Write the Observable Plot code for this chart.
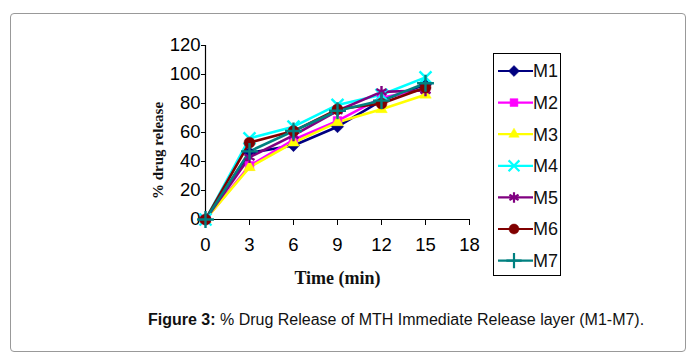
<!DOCTYPE html>
<html>
<head>
<meta charset="utf-8">
<script src="https://cdn.jsdelivr.net/npm/d3@7"></script>
<script src="https://cdn.jsdelivr.net/npm/@observablehq/plot@0.6"></script>
<style>
  html, body { margin: 0; padding: 0; background: #fff; }
  #wrap { position: relative; width: 694px; height: 354px; overflow: hidden; font-family: "Liberation Sans", Arial, sans-serif; }
  #frame { position: absolute; left: 10px; top: 13px; width: 676px; height: 339px; border: 1.3px solid #999; border-radius: 4px; box-sizing: border-box; }
  #chart { position: absolute; left: 0; top: 0; }
  #legend { position: absolute; left: 0; top: 0; }
  #caption { position: absolute; left: 148px; top: 311px; font-size: 16px; color: #111; white-space: nowrap; }
</style>
</head>
<body>
<div id="wrap">
  <div id="frame"></div>
  <div id="chart"></div>
  <svg id="legend" width="694" height="354"></svg>
  <div id="caption"><b>Figure 3:</b> % Drug Release of MTH Immediate Release layer (M1-M7).</div>
</div>
<script>
const time = [0, 3, 6, 9, 12, 15];
const seriesNames = ["M1", "M2", "M3", "M4", "M5", "M6", "M7"];
const M1 = [0, 46, 51, 64, 82, 93];
const M2 = [0, 37, 55, 68, 84, 90];
const M3 = [0, 36, 53, 67, 76, 86];
const M4 = [0, 56, 64, 79, 86, 98];
const M5 = [0, 43, 58, 75, 88, 89];
const M6 = [0, 53, 61, 76, 80, 91];
const M7 = [0, 47, 61, 75, 82, 94];
const colors = ["#000080", "#ff00ff", "#ffff00", "#00ffff", "#800080", "#800000", "#008080"];
const symbols = ["diamond2", "square2", "triangle2", "times", "asterisk", "circle", "plus"];
const filled = [true, true, true, false, false, true, false];
const xTicks = [0, 3, 6, 9, 12, 15, 18];
const yTicks = [0, 20, 40, 60, 80, 100, 120];

const allValues = [M1, M2, M3, M4, M5, M6, M7];
const data = [];
seriesNames.forEach((s, i) => time.forEach((t, j) => data.push({series: s, t, v: allValues[i][j]})));

const marks = [];
seriesNames.forEach((s, i) => {
  const d = data.filter(r => r.series === s);
  marks.push(Plot.line(d, {x: "t", y: "v", stroke: colors[i], strokeWidth: 2.6}));
});
seriesNames.forEach((s, i) => {
  const d = data.filter(r => r.series === s);
  marks.push(Plot.dot(d, {
    x: "t", y: "v", symbol: () => symbols[i], r: 5.5,
    fill: filled[i] ? colors[i] : "none",
    stroke: colors[i], strokeWidth: filled[i] ? 0.5 : 2.4
  }));
});

const chart = Plot.plot({
  width: 694,
  height: 354,
  marginLeft: 205,
  marginRight: 225,
  marginTop: 45,
  marginBottom: 135,
  style: {background: "transparent", color: "#000"},
  x: {domain: [0, 18]},
  y: {domain: [0, 120]},
  marks: [
    Plot.axisX({ticks: xTicks, tickSize: 6, tickPadding: 12, fontSize: 18.5, fontFamily: "Liberation Sans, Arial, sans-serif", label: null, stroke: "#000"}),
    Plot.axisY({ticks: yTicks, tickSize: 4, tickPadding: 1, fontSize: 18.5, fontFamily: "Liberation Sans, Arial, sans-serif", label: null, stroke: "#000"}),
    Plot.ruleY([0], {stroke: "#000", strokeWidth: 1.2}),
    Plot.ruleX([0], {stroke: "#000", strokeWidth: 1.2}),
    ...marks,
    Plot.text(["Time (min)"], {frameAnchor: "bottom", dy: 64, fontSize: 18, fontWeight: "bold", fontFamily: "Liberation Serif, Times New Roman, serif", fill: "#111"}),
    Plot.text(["% drug release"], {frameAnchor: "left", textAnchor: "middle", dx: -47, dy: 18, rotate: -90, fontSize: 15, fontWeight: "bold", fontFamily: "Liberation Serif, Times New Roman, serif", fill: "#111"})
  ]
});
document.getElementById("chart").appendChild(chart);

// Legend
const leg = d3.select("#legend");
leg.append("rect").attr("x", 493.5).attr("y", 53.5).attr("width", 67).attr("height", 222)
  .attr("fill", "none").attr("stroke", "#000").attr("stroke-width", 1);
const symMap = {diamond2: d3.symbolDiamond2, square2: d3.symbolSquare2, triangle2: d3.symbolTriangle2,
  times: d3.symbolTimes, asterisk: d3.symbolAsterisk, circle: d3.symbolCircle, plus: d3.symbolPlus};
seriesNames.forEach((s, i) => {
  const y = 71 + i * 31.6;
  const g = leg.append("g");
  g.append("line").attr("x1", 498).attr("x2", 533).attr("y1", y).attr("y2", y)
    .attr("stroke", colors[i]).attr("stroke-width", 2.2);
  g.append("path").attr("transform", `translate(514,${y})`)
    .attr("d", d3.symbol(symMap[symbols[i]], 78)())
    .attr("fill", filled[i] ? colors[i] : "none")
    .attr("stroke", colors[i]).attr("stroke-width", filled[i] ? 0.5 : 2.2);
  g.append("text").attr("x", 533).attr("y", y).attr("dy", "0.36em")
    .attr("font-size", 18).attr("font-family", "Liberation Sans, Arial, sans-serif").attr("fill", "#111").text(s);
});
</script>
</body>
</html>
